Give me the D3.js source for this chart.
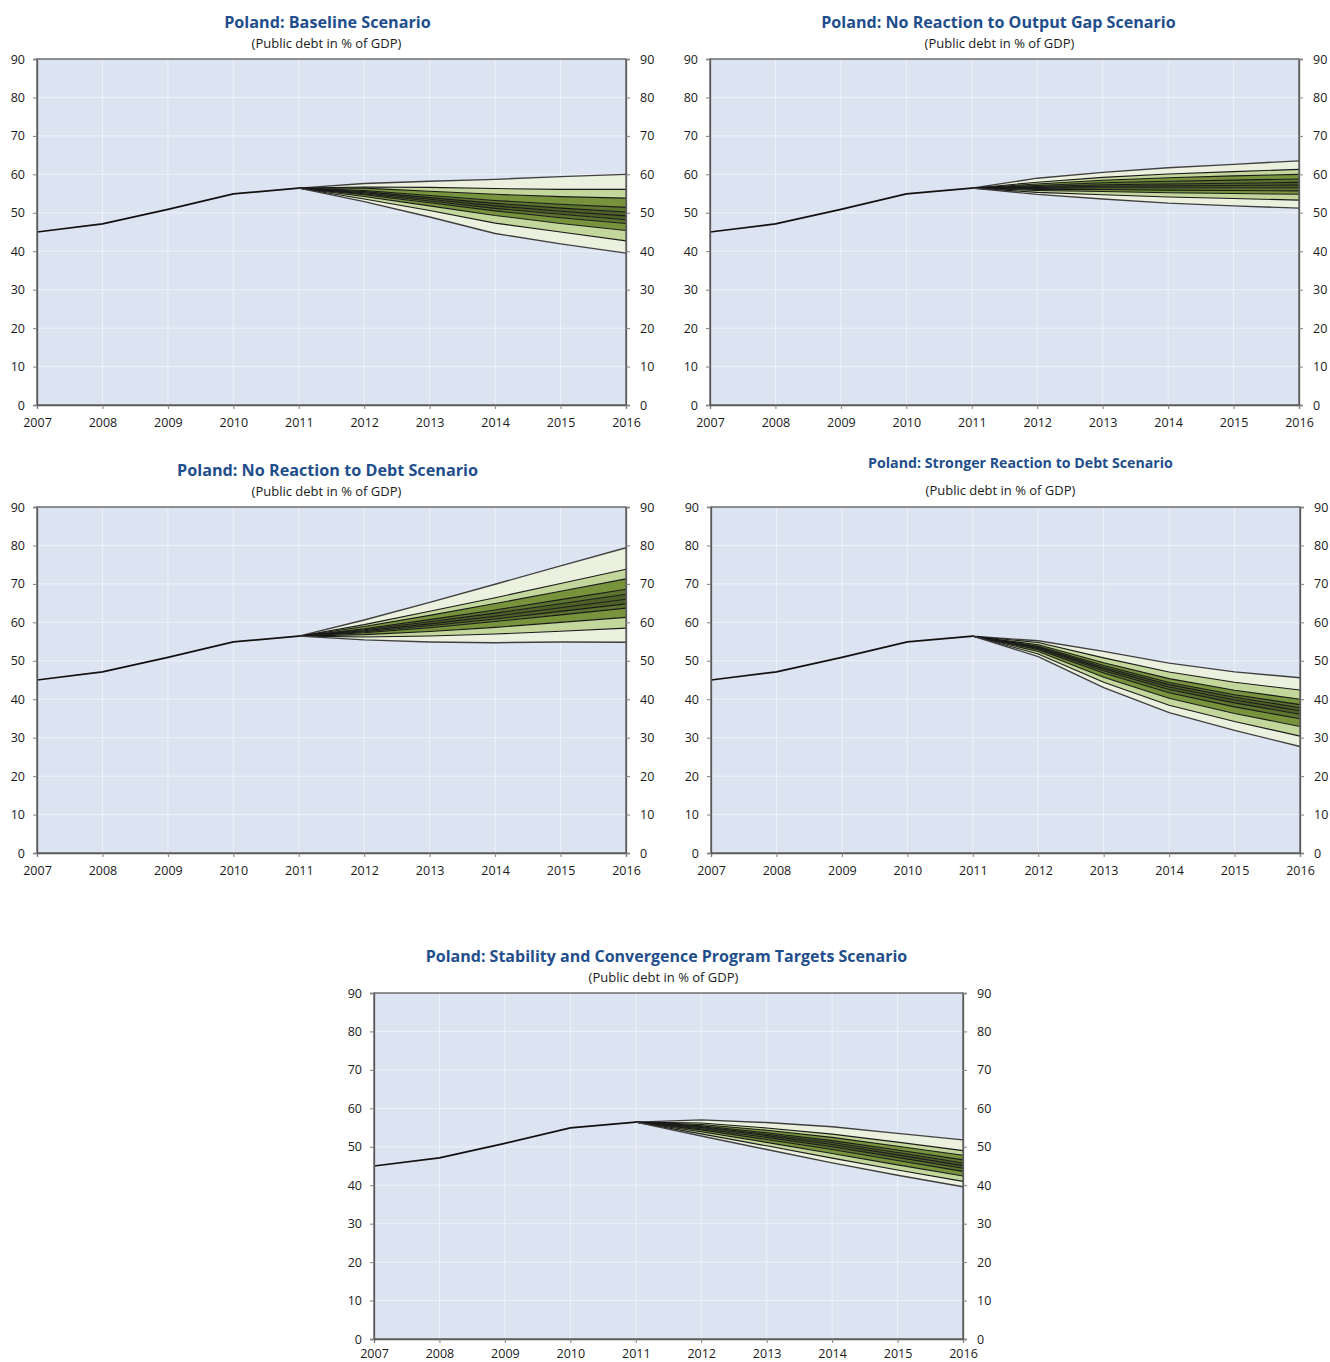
<!DOCTYPE html>
<html>
<head>
<meta charset="utf-8">
<script src="https://cdn.jsdelivr.net/npm/d3@7"></script>
<style>
  body { margin: 0; background: #ffffff; }
  svg { display: block; }
  text { font-family: "Open Sans", "DejaVu Sans", sans-serif; }
</style>
</head>
<body>
<svg id="chart" width="1330" height="1362"></svg>
<script>
// ---- data -------------------------------------------------------------
const years = [2007, 2008, 2009, 2010, 2011, 2012, 2013, 2014, 2015, 2016];
const yTicks = [0, 10, 20, 30, 40, 50, 60, 70, 80, 90];

// observed public debt (% of GDP)
const historyYears = [2007, 2008, 2009, 2010, 2011];
const historyDebt = [45.0, 47.1, 50.9, 54.9, 56.4];

// projection horizon; each fan line starts from the last observed value
const fanYears = [2012, 2013, 2014, 2015, 2016];

// fan lines, from the upper edge (95th pct) down to the lower edge (5th pct)
const baselineFan = [
  [57.6, 58.2, 58.7, 59.4, 60.0],
  [56.7, 56.6, 56.3, 56.1, 56.1],
  [56.4, 55.6, 54.8, 54.2, 53.8],
  [55.8, 54.5, 53.2, 52.2, 51.4],
  [55.5, 53.95, 52.45, 51.2, 50.2],
  [55.2, 53.5, 51.8, 50.4, 49.2],
  [54.95, 53.05, 51.15, 49.6, 48.2],
  [54.7, 52.6, 50.5, 48.7, 47.2],
  [54.25, 51.8, 49.3, 47.2, 45.4],
  [53.6, 50.6, 47.3, 45.0, 42.7],
  [52.9, 48.9, 44.6, 41.9, 39.5]
];

const outputGapFan = [
  [59.0, 60.5, 61.7, 62.6, 63.5],
  [57.95, 59.2, 60.1, 60.7, 61.3],
  [57.5, 58.45, 59.1, 59.6, 60.0],
  [57.1, 57.8, 58.2, 58.5, 58.8],
  [56.85, 57.3, 57.5, 57.7, 57.9],
  [56.6, 56.9, 57.0, 57.1, 57.2],
  [56.35, 56.5, 56.5, 56.5, 56.5],
  [56.1, 56.05, 55.9, 55.8, 55.7],
  [55.8, 55.55, 55.2, 55.0, 54.8],
  [55.3, 54.7, 54.1, 53.7, 53.3],
  [54.8, 53.6, 52.5, 51.8, 51.2]
];

const noDebtReactionFan = [
  [60.6, 65.2, 69.9, 74.7, 79.4],
  [59.4, 62.9, 66.4, 70.1, 73.8],
  [58.9, 61.8, 64.9, 68.1, 71.3],
  [58.35, 60.7, 63.2, 65.9, 68.6],
  [58.07, 60.15, 62.4, 64.85, 67.3],
  [57.8, 59.6, 61.6, 63.8, 66.0],
  [57.55, 59.1, 60.85, 62.85, 64.8],
  [57.3, 58.6, 60.2, 61.95, 63.7],
  [56.8, 57.6, 58.7, 60.0, 61.3],
  [56.2, 56.45, 56.95, 57.7, 58.5],
  [55.45, 54.9, 54.7, 54.9, 54.8]
];

const strongerReactionFan = [
  [55.2, 52.45, 49.4, 47.1, 45.6],
  [54.75, 50.75, 47.1, 44.4, 42.4],
  [54.15, 49.5, 45.35, 42.35, 40.0],
  [53.8, 48.75, 44.35, 41.15, 38.6],
  [53.6, 48.3, 43.8, 40.5, 37.8],
  [53.4, 47.9, 43.2, 39.8, 37.0],
  [53.18, 47.4, 42.55, 39.05, 36.1],
  [52.9, 46.8, 41.7, 38.0, 34.9],
  [52.4, 45.7, 40.25, 36.3, 32.9],
  [51.75, 44.4, 38.45, 34.2, 30.4],
  [51.1, 43.0, 36.5, 31.9, 27.7]
];

const scpTargetsFan = [
  [57.0, 56.3, 55.2, 53.5, 51.8],
  [56.2, 54.9, 53.3, 51.2, 49.0],
  [55.8, 54.3, 52.45, 50.15, 47.8],
  [55.45, 53.65, 51.6, 49.15, 46.6],
  [55.2, 53.25, 51.1, 48.5, 45.8],
  [55.0, 52.9, 50.6, 47.9, 45.1],
  [54.7, 52.45, 50.0, 47.25, 44.4],
  [54.4, 51.9, 49.3, 46.45, 43.6],
  [53.9, 51.15, 48.25, 45.3, 42.4],
  [53.35, 50.25, 47.05, 43.95, 41.0],
  [52.8, 49.3, 45.8, 42.6, 39.6]
];

const scenarioTitles = [
  "Poland: Baseline Scenario",
  "Poland: No Reaction to Output Gap Scenario",
  "Poland: No Reaction to Debt Scenario",
  "Poland: Stronger Reaction to Debt Scenario",
  "Poland: Stability and Convergence Program Targets Scenario"
];
const subtitle = "(Public debt in % of GDP)";

// band fills, outermost (upper) band first
const bandColors = ["#ebf1de", "#c3d69b", "#77933c", "#5b752e", "#4d6126",
                    "#4d6126", "#5b752e", "#77933c", "#c3d69b", "#ebf1de"];

// ---- layout -----------------------------------------------------------
const panels = [
  { fan: baselineFan,         x: 37,  y: 59,  title: scenarioTitles[0], titleY: 24,  subY: 45,  titleSize: 16.2, titleDx: -4, xPad: 9 },
  { fan: outputGapFan,        x: 710, y: 59,  title: scenarioTitles[1], titleY: 24,  subY: 45,  titleSize: 16.1, titleDx: -6, xPad: 9 },
  { fan: noDebtReactionFan,   x: 37,  y: 507, title: scenarioTitles[2], titleY: 472, subY: 493, titleSize: 16.2, titleDx: -4, xPad: 9 },
  { fan: strongerReactionFan, x: 711, y: 507, title: scenarioTitles[3], titleY: 464, subY: 492, titleSize: 14.2, titleDx: 15, xPad: 9 },
  { fan: scpTargetsFan,       x: 374, y: 993, title: scenarioTitles[4], titleY: 958, subY: 979, titleSize: 16.0, titleDx: -2, xPad: 6 }
];
const plotW = 589, plotH = 346;

const svg = d3.select("#chart");

panels.forEach(p => {
  const g = svg.append("g").attr("transform", `translate(${p.x},${p.y})`);
  const x = d3.scaleLinear().domain([2007, 2016]).range([0, plotW]);
  const y = d3.scaleLinear().domain([0, 90]).range([plotH, 0]);

  // plot background
  g.append("rect").attr("width", plotW).attr("height", plotH).attr("fill", "#dce4f2");

  // light grid
  g.append("g").selectAll("line.v").data(years.slice(1, -1)).join("line")
    .attr("x1", d => x(d)).attr("x2", d => x(d)).attr("y1", 0).attr("y2", plotH)
    .attr("stroke", "#eef2f9").attr("stroke-width", 1);
  g.append("g").selectAll("line.h").data(yTicks.slice(1, -1)).join("line")
    .attr("x1", 0).attr("x2", plotW).attr("y1", d => y(d)).attr("y2", d => y(d))
    .attr("stroke", "#eef2f9").attr("stroke-width", 1);

  // fan lines joined to the last observed point
  const lastYear = historyYears[historyYears.length - 1];
  const lastVal = historyDebt[historyDebt.length - 1];
  const lines = p.fan.map(vals => [[lastYear, lastVal]].concat(fanYears.map((yr, i) => [yr, vals[i]])));

  // bands between consecutive fan lines
  for (let b = 0; b < lines.length - 1; b++) {
    const upper = lines[b], lower = lines[b + 1];
    const area = d3.area()
      .x(d => x(d[0]))
      .y0((d, i) => y(lower[i][1]))
      .y1(d => y(d[1]));
    g.append("path").datum(upper).attr("d", area).attr("fill", bandColors[b]).attr("stroke", "none");
  }
  const lineGen = d3.line().x(d => x(d[0])).y(d => y(d[1]));
  lines.forEach((ln, i) => {
    const outer = i === 0 || i === lines.length - 1;
    g.append("path").datum(ln).attr("d", lineGen)
      .attr("fill", "none")
      .attr("stroke", outer ? "#404040" : "#1a1a1a")
      .attr("stroke-width", outer ? 1.4 : 1.1);
  });

  // observed debt
  g.append("path").datum(historyYears.map((yr, i) => [yr, historyDebt[i]]))
    .attr("d", lineGen).attr("fill", "none").attr("stroke", "#111").attr("stroke-width", 1.7);

  // frame
  g.append("rect").attr("width", plotW).attr("height", plotH)
    .attr("fill", "none").attr("stroke", "#595959").attr("stroke-width", 1.3);

  // axes
  const xAxis = d3.axisBottom(x).tickValues(years).tickFormat(d3.format("d")).tickSize(4).tickPadding(p.xPad);
  const yLeft = d3.axisLeft(y).tickValues(yTicks).tickSize(4).tickPadding(8);
  const yRight = d3.axisRight(y).tickValues(yTicks).tickSize(4).tickPadding(10);

  const styleAxis = sel => {
    sel.select(".domain").attr("stroke", "#595959").attr("stroke-width", 1.3);
    sel.selectAll(".tick line").attr("stroke", "#7f7f7f");
    sel.selectAll("text").attr("font-size", 12.5).attr("fill", "#1a1a1a")
      .style("font-family", "'Open Sans', sans-serif");
  };
  g.append("g").attr("transform", `translate(0,${plotH})`).call(xAxis).call(styleAxis);
  g.append("g").call(yLeft).call(styleAxis);
  g.append("g").attr("transform", `translate(${plotW},0)`).call(yRight).call(styleAxis);

  // titles
  const cx = plotW / 2;
  g.append("text").attr("x", cx + p.titleDx).attr("y", p.titleY - p.y).attr("text-anchor", "middle")
    .attr("dominant-baseline", "middle")
    .attr("font-size", p.titleSize).attr("font-weight", 700).attr("fill", "#1f4e8c")
    .text(p.title);
  g.append("text").attr("x", cx - 5).attr("y", p.subY - p.y).attr("text-anchor", "middle")
    .attr("dominant-baseline", "middle")
    .attr("font-size", 13).attr("fill", "#1a1a1a")
    .text(subtitle);
});
</script>
</body>
</html>
